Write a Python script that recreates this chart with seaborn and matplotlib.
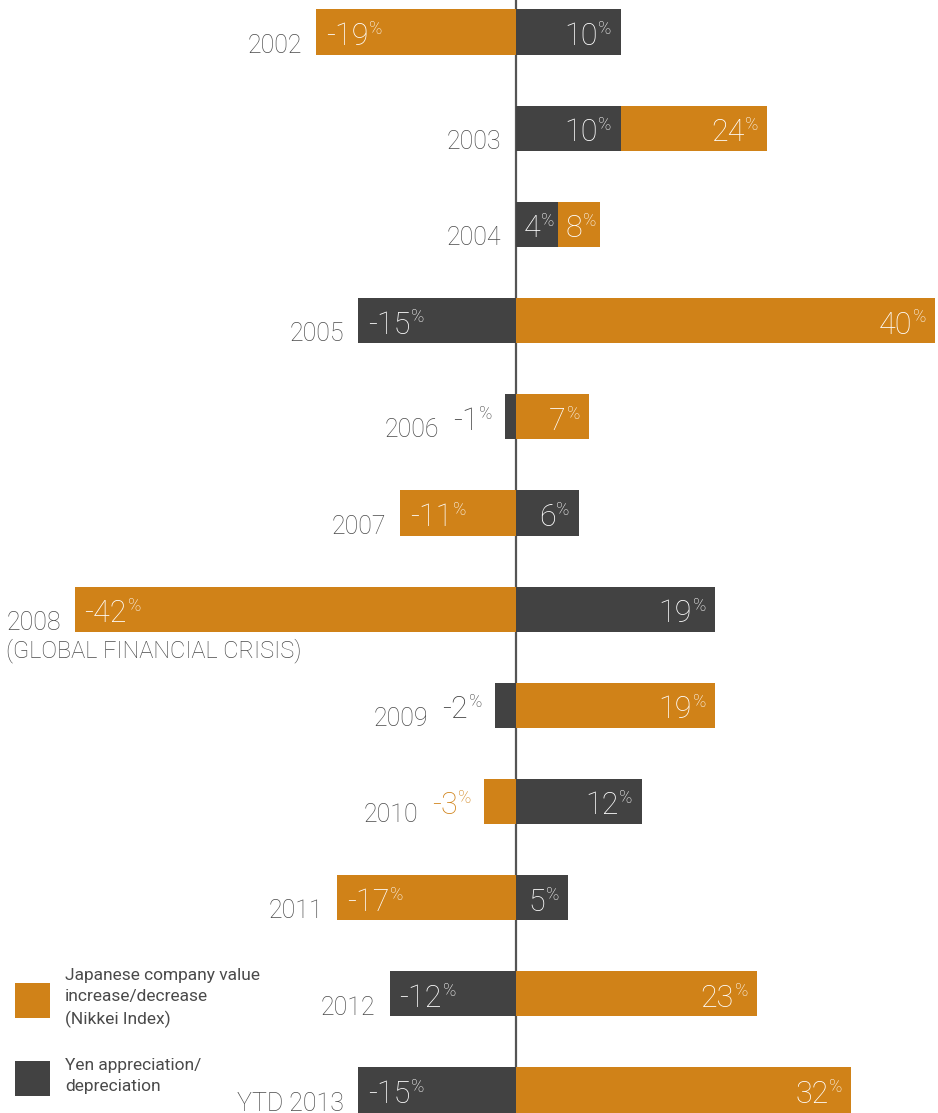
import matplotlib
matplotlib.use("Agg")
import matplotlib.pyplot as plt
from matplotlib.patches import Rectangle
import seaborn as sns

# data
years = ["2002", "2003", "2004", "2005", "2006", "2007",
         "2008", "2009", "2010", "2011", "2012", "YTD 2013"]
nikkei = [-19, 24, 8, 40, 7, -11, -42, 19, -3, -17, 23, 32]
yen = [10, 10, 4, -15, -1, 6, 19, -2, 12, 5, -12, -15]
note_2008 = "(GLOBAL FINANCIAL CRISIS)"
legend_nikkei = "Japanese company value\nincrease/decrease\n(Nikkei Index)"
legend_yen = "Yen appreciation/\ndepreciation"

ORANGE = "#D08218"
DARK = "#424242"
GREY = "#4a4a4a"

sns.set_style("white")
plt.rcParams["font.family"] = ["Roboto", "DejaVu Sans"]
plt.rcParams["font.weight"] = "light"

fig = plt.figure(figsize=(9.38, 11.13), dpi=100)
ax = fig.add_axes([0, 0, 1, 1])

ax.axvline(0, color="#555555", lw=1.6, zorder=0)
sns.barplot(x=nikkei, y=years, orient="h", color=ORANGE, saturation=1,
            width=0.47, errorbar=None, linewidth=0, ax=ax, zorder=2)
sns.barplot(x=yen, y=years, orient="h", color=DARK, saturation=1,
            width=0.47, errorbar=None, linewidth=0, ax=ax, zorder=3)

ax.set_xlim(-49.1, 40.24)
ax.set_ylim(11.239, -0.333)
ax.set_xticks([])
ax.set_yticks([])
ax.set_xlabel("")
ax.set_ylabel("")
sns.despine(ax=ax, left=True, bottom=True)


def value_label(v, y, color, inside, pad):
    yb = y + 0.135
    txt = str(v)
    if v > 0 or not inside:
        x = v - pad if v > 0 else v - 1.2
        pct = ax.annotate("%", xy=(x, yb), xytext=(0, 8), textcoords="offset points",
                          ha="right", va="baseline", fontsize=13, color=color, zorder=5)
        num = ax.annotate(txt, xy=(0, yb), xycoords=(pct, "data"), xytext=(-0.5, 0),
                          textcoords="offset points", ha="right", va="baseline",
                          fontsize=22, color=color, zorder=5)
    else:
        num = ax.text(v + 0.95, yb, txt, ha="left", va="baseline",
                      fontsize=22, color=color, zorder=5)
        ax.annotate("%", xy=(1, yb), xycoords=(num, "data"), xytext=(0.5, 8),
                    textcoords="offset points", ha="left", va="baseline",
                    fontsize=13, color=color, zorder=5)
    return num


for i, (n, yv) in enumerate(zip(nikkei, yen)):
    # same-sign pairs with a thin outer segment get tighter label padding
    narrow = n * yv > 0 and abs(abs(n) - abs(yv)) < 6
    pad = 0.3 if narrow else 0.85
    anchors = []
    for v, col in ((n, ORANGE), (yv, DARK)):
        inside = abs(v) > 3
        color = "white" if inside else col
        t = value_label(v, i, color, inside, pad)
        if not inside:
            anchors.append(t)
    yb = i + 0.215
    if anchors:
        ylab = ax.annotate(years[i], xy=(0, yb), xycoords=(anchors[0], "data"),
                           xytext=(-10, 0), textcoords="offset points",
                           ha="right", va="baseline", fontsize=18, color=GREY)
    else:
        ylab = ax.annotate(years[i], xy=(min(n, yv, 0), yb), xytext=(-10, 0),
                           textcoords="offset points", ha="right", va="baseline",
                           fontsize=18, color=GREY)
    if years[i] == "2008":
        ax.annotate(note_2008, xy=(0, yb), xycoords=(ylab, "data"), xytext=(0, -20),
                    textcoords="offset points", ha="left", va="baseline",
                    fontsize=17, color=GREY)

# legend
W, H = 938, 1113
for top, col in ((983, ORANGE), (1061, DARK)):
    fig.add_artist(Rectangle((15 / W, 1 - (top + 35) / H), 35 / W, 35 / H,
                             transform=fig.transFigure, color=col, lw=0))
fig.text(65 / W, 1 - 968 / H, legend_nikkei, ha="left", va="top",
         fontsize=12.5, color=GREY, linespacing=1.5, fontweight="normal")
fig.text(65 / W, 1 - 1058 / H, legend_yen, ha="left", va="top",
         fontsize=12.5, color=GREY, linespacing=1.5, fontweight="normal")

fig.savefig("out.png", dpi=100)
